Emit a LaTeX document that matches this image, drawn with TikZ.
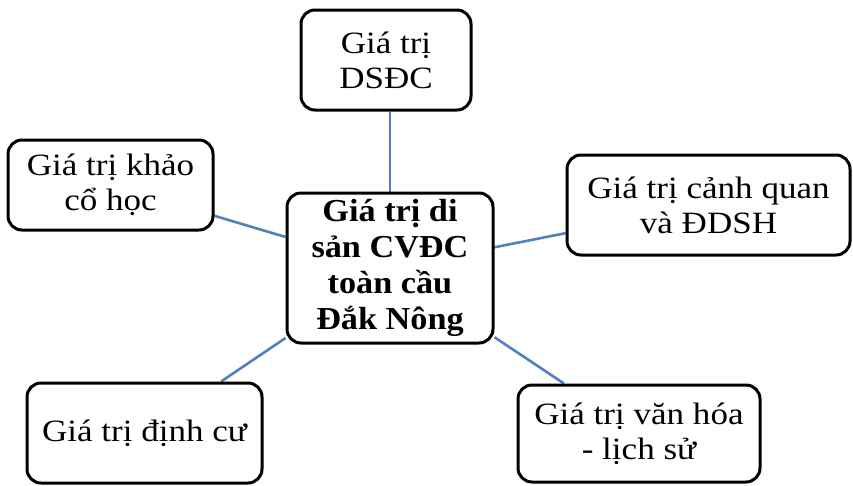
\documentclass[tikz,border=0pt]{standalone}
\usepackage{fontspec}
\setmainfont{Liberation Serif}[FakeStretch=1.13]
\newfontfamily\ctrfont{Liberation Serif}[FakeStretch=1.07]
\usetikzlibrary{backgrounds}
\definecolor{linkblue}{RGB}{79,129,189}
\tikzset{
  box/.style={draw=black, line width=3pt, rounded corners=14pt, fill=white,
    align=center, inner sep=0pt, font=\fontsize{31}{35}\selectfont},
  hub/.style={box, font=\ctrfont\bfseries\fontsize{32}{36}\selectfont},
  link/.style={draw=linkblue, line width=2.6pt}
}
\begin{document}
\begin{tikzpicture}[x=1pt, y=-1pt]
  \useasboundingbox (0,0) rectangle (853,485);

  % central topic
  \node[hub, minimum width=206pt, minimum height=150pt] (cen) at (390,268)
    {Giá trị di\\sản CVĐC\\toàn cầu\\Đắk Nông};

  % surrounding values
  \node[box, minimum width=170pt, minimum height=100pt] (top) at (386,60)
    {Giá trị\\DSĐC};
  \node[box, minimum width=205pt, minimum height=90pt] (left) at (110.5,185)
    {Giá trị khảo\\cổ học};
  \node[box, minimum width=283pt, minimum height=100pt] (right) at (708.5,205)
    {Giá trị cảnh quan\\và ĐDSH};
  \node[box, minimum width=235pt, minimum height=100pt] (bl) at (144.5,433)
    {Giá trị định cư};
  \node[box, minimum width=242pt, minimum height=97pt] (br) at (639,433.5)
    {Giá trị văn hóa\\- lịch sử};

  % connectors
  \begin{scope}[on background layer]
    \draw[link] (cen.north) -- (cen.north |- top.south);
    \draw[link] (cen) -- (left);
    \draw[link] (cen) -- (right);
    \draw[link] (cen) -- (bl);
    \draw[link] (cen) -- (br);
  \end{scope}
\end{tikzpicture}
\end{document}
